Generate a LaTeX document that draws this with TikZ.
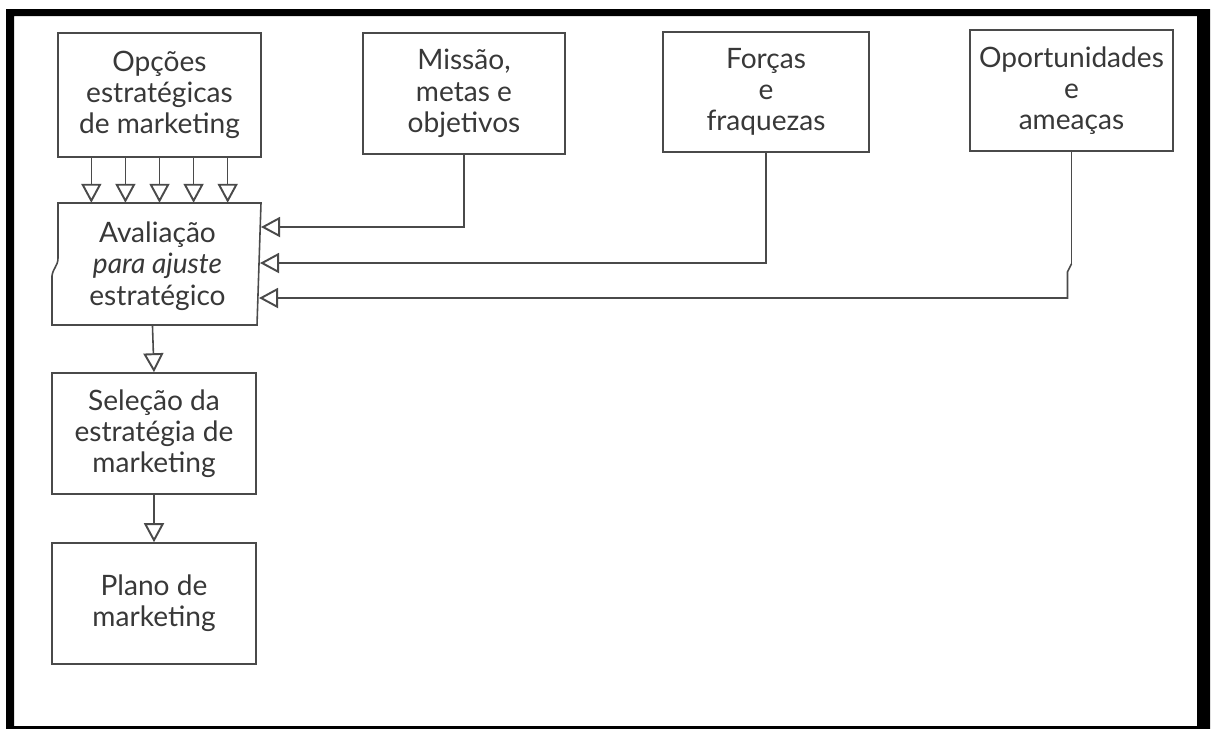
\documentclass[tikz,border=0pt]{standalone}
\usepackage{fontspec}
\setmainfont{Lato}
\usepackage{tikz}
\usetikzlibrary{calc}
\usetikzlibrary{arrows.meta}

\definecolor{linegray}{HTML}{4A4A4A}
\definecolor{textgray}{HTML}{383838}

\tikzset{
  box/.style={draw=linegray, line width=0.9pt, align=center, text=textgray,
    font=\fontsize{16}{17.8}\selectfont},
  wire/.style={draw=linegray, line width=0.9pt},
  tri/.style={wire, -{Triangle[open, length=0.38cm, width=0.40cm, line width=1.1pt]}},
}

\begin{document}
\begin{tikzpicture}[x=0.02cm, y=-0.02cm]
\useasboundingbox (0,0) rectangle (1212,728);

% frame
\fill[black, even odd rule] (6,9) rectangle (1210,730) (14,16) rectangle (1197,726);

% top row
\node[box, minimum width=4.06cm, minimum height=2.48cm] (opcoes) at (159.5,95)
  {Opções\\estratégicas\\de marketing};
\node[box, minimum width=4.04cm, minimum height=2.42cm] (missao) at (464,93.5)
  {Missão,\\metas e\\objetivos};
\node[box, minimum width=4.12cm, minimum height=2.40cm] (forcas) at (766,92)
  {Forças\\e\\fraquezas};
\node[box, minimum width=4.06cm, minimum height=2.42cm] (oport) at (1071.5,90.5)
  {Oportunidades\\e\\ameaças};

% evaluation box (torn left edge)
\coordinate (aval_tl) at (58,203);
\coordinate (aval_tr) at (261,203);
\coordinate (aval_br) at (257,325);
\coordinate (aval_bl) at (52,325);
\draw[wire] (aval_tl) -- (aval_tr) -- (aval_br) -- (aval_bl) -- (52,276)
  .. controls (53,268) and (58,266) .. (58,258) -- cycle;
\node[box, draw=none] (aval) at ($(aval_tl)!0.5!(aval_br)+(0,2)$)
  {Avaliação\\\textit{para ajuste}\\estratégico};
\coordinate (in1) at (261,227);
\coordinate (in2) at (260,263);
\coordinate (in3) at (259,298);

% lower column
\node[box, minimum width=4.08cm, minimum height=2.42cm] (selecao) at (154,433.5)
  {Seleção da\\estratégia de\\marketing};
\node[box, minimum width=4.08cm, minimum height=2.42cm] (plano) at (154,603.5)
  {Plano de\\marketing};

% arrows
\foreach \i in {1,...,5}
  \draw[tri] ($(opcoes.south west)!\i/6!(opcoes.south east)$) -- ++(0,45);

\draw[tri] (missao.south) |- (in1);
\draw[tri] (forcas.south) |- (in2);
\draw[wire] (oport.south) -- ++(0,112) coordinate (jog);
\draw[tri] (jog) -- ++(-4,8) |- (in3);

\draw[tri] ($(aval_bl)!0.49!(aval_br)$) -- (selecao.north);
\draw[tri] (selecao.south) -- (plano.north);
\end{tikzpicture}
\end{document}
